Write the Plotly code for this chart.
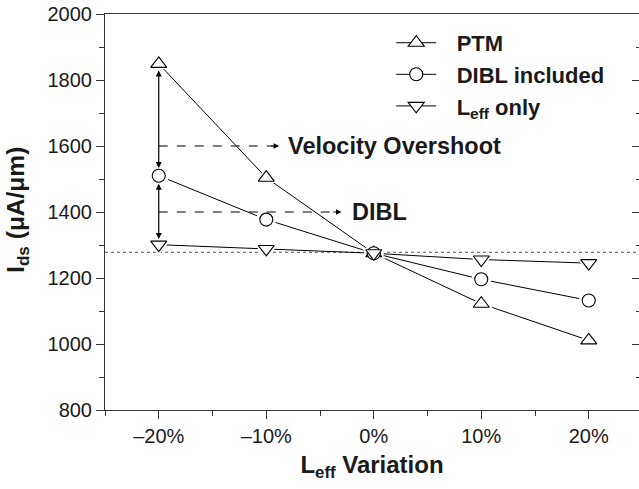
import plotly.graph_objects as go

# ---- data ----
leff_variation = [-20, -10, 0, 10, 20]
ptm = [1849, 1504, 1275, 1122, 1011]
dibl_included = [1510, 1377, 1275, 1196, 1132]
leff_only = [1301, 1288, 1275, 1256, 1245]
x_tick_vals = [-20, -10, 0, 10, 20]
x_tick_text = ["\u201320%", "\u201310%", "0%", "10%", "20%"]
ref_level = 1278

FONT = "Liberation Sans, Arial, Helvetica, sans-serif"
TXT = "#1a1a1a"

series = [
    ("PTM", ptm, "triangle-up", 14),
    ("DIBL included", dibl_included, "circle", 13),
    ("L<sub>eff</sub> only", leff_only, "triangle-down", 14),
]

fig = go.Figure()

# reference dotted line
fig.add_shape(type="line", xref="paper", yref="y", x0=0, x1=1, y0=ref_level, y1=ref_level,
              line=dict(color="#555555", width=1.2, dash="dot"), layer="below")

for name, vals, sym, sz in series:
    fig.add_trace(go.Scatter(x=leff_variation, y=vals, mode="lines",
                             line=dict(color="black", width=1), showlegend=False, hoverinfo="skip"))
for name, vals, sym, sz in series:
    fig.add_trace(go.Scatter(x=leff_variation, y=vals, mode="markers",
                             marker=dict(symbol=sym, size=sz + 7, color="white", line=dict(width=0)),
                             showlegend=False, hoverinfo="skip"))
for name, vals, sym, sz in series:
    fig.add_trace(go.Scatter(x=leff_variation, y=vals, mode="markers",
                             marker=dict(symbol=sym, size=sz, color="white",
                                         line=dict(color="black", width=1.1)),
                             showlegend=False))
for name, vals, sym, sz in series:
    fig.add_trace(go.Scatter(x=[None], y=[None], mode="lines+markers",
                             name="\u2002\u2009<b>" + name + "</b>",
                             line=dict(color="black", width=1),
                             marker=dict(symbol=sym, size=sz, color="white",
                                         line=dict(color="black", width=1.1))))

# vertical double arrows at -20%
arrow_pairs = [(1833, 1533), (1490, 1318)]
for y_top, y_bot in arrow_pairs:
    fig.add_annotation(x=-20, y=y_bot, ax=-20, ay=y_top, xref="x", yref="y", axref="x", ayref="y",
                       text="", showarrow=True, arrowhead=2, startarrowhead=2, arrowside="end+start",
                       arrowsize=1, startarrowsize=1, arrowwidth=1.2, arrowcolor="black")

# dashed horizontal arrows with labels
labels = [(1600, -8.8, -8.15, "Velocity Overshoot"), (1400, -3.0, -2.25, "DIBL")]
for yv, tip, tx, txt in labels:
    fig.add_shape(type="line", xref="x", yref="y", x0=-20, x1=tip - 0.6, y0=yv, y1=yv,
                  line=dict(color="black", width=1.1, dash="dash"))
    fig.add_annotation(x=tip, y=yv, ax=tip - 0.9, ay=yv, xref="x", yref="y", axref="x", ayref="y",
                       text="", showarrow=True, arrowhead=2, arrowsize=1, arrowwidth=1.1,
                       arrowcolor="black")
    fig.add_annotation(x=tx, y=yv, xref="x", yref="y", text="<b>" + txt + "</b>", showarrow=False,
                       xanchor="left", yanchor="middle",
                       font=dict(family=FONT, size=23.5, color=TXT))

# y-axis title as annotation
fig.add_annotation(x=-0.165, y=0.505, xref="paper", yref="paper", textangle=-90,
                   text="<b>I<sub>ds</sub> (\u03bcA/\u03bcm)</b>", showarrow=False,
                   xanchor="center", yanchor="middle",
                   font=dict(family=FONT, size=24.5, color=TXT))

# right-side inward ticks
fig.add_trace(go.Scatter(x=[None], y=[None], yaxis="y2", showlegend=False))

fig.update_layout(
    width=639, height=489,
    margin=dict(l=105, r=0, t=14, b=79),
    plot_bgcolor="white", paper_bgcolor="white",
    font=dict(family=FONT, color=TXT),
    showlegend=True,
    legend=dict(x=0.536, y=0.98, xanchor="left", yanchor="top", bgcolor="rgba(0,0,0,0)",
                font=dict(family=FONT, size=22, color=TXT), itemwidth=40,
                tracegroupgap=0),
    xaxis=dict(range=[-25, -25 + 534 / 10.75], tickvals=x_tick_vals, ticktext=x_tick_text,
               ticks="outside", ticklen=8, tickwidth=1, tickcolor="#333",
               minor=dict(dtick=5, tick0=-25, ticks="outside", ticklen=5, tickcolor="#333"),
               showline=True, linecolor="#333", linewidth=1, mirror=True,
               showgrid=False, zeroline=False,
               tickfont=dict(family=FONT, size=20, color=TXT),
               title=dict(text="<b>L<sub>eff</sub> Variation</b>", standoff=10,
                          font=dict(family=FONT, size=24, color=TXT))),
    yaxis=dict(range=[800, 2000], dtick=200, tick0=800,
               ticks="outside", ticklen=8, tickwidth=1, tickcolor="#333",
               minor=dict(dtick=100, ticks="outside", ticklen=5, tickcolor="#333"),
               showline=True, linecolor="#333", linewidth=1, mirror=False,
               showgrid=False, zeroline=False,
               tickfont=dict(family=FONT, size=20, color=TXT)),
    yaxis2=dict(overlaying="y", side="right", range=[800, 2000], dtick=200, tick0=800,
                ticks="inside", ticklen=7, tickcolor="#333", showticklabels=False,
                minor=dict(dtick=100, ticks="inside", ticklen=3, tickcolor="#333"),
                showline=False, showgrid=False, zeroline=False),
)

fig.write_html("out.html")
